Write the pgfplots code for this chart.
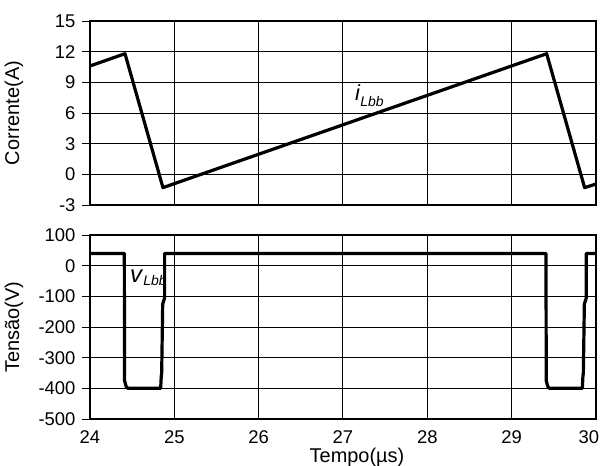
\documentclass[border=0pt]{standalone}
\usepackage{pgfplots}
\pgfplotsset{compat=1.18}
\usepackage{fontspec}
\setmainfont{Liberation Sans}

\pgfplotsset{
  osc/.style={
    scale only axis, width=506bp, height=184bp,
    xmin=24, xmax=30,
    xtick={24,25,...,30},
    grid=major,
    major grid style={black, line width=1bp},
    axis line style={black, line width=1.2bp},
    tick pos=left, tick align=outside,
    major tick length=8bp,
    xtick style={draw=none},
    ytick style={black, line width=1bp},
    tick label style={font=\fontsize{18.5}{20}\selectfont},
    label style={font=\fontsize{20}{22}\selectfont},
    /pgf/number format/assume math mode=true,
    yticklabel style={xshift=-3bp},
  },
  wave/.style={black, line width=3.2bp, line join=round},
}

\begin{document}
\begin{tikzpicture}
% corrente no indutor
\begin{axis}[osc, at={(90bp,-21bp)}, anchor=north west,
  ymin=-3, ymax=15, ytick={-3,0,3,6,9,12,15},
  xticklabels={},
  ylabel={Corrente(A)},
  ylabel style={at={(axis description cs:-0.125,0.5)}, anchor=south}]
\addplot[wave] coordinates {
  (24,10.6) (24.415,11.8) (24.865,-1.3) (29.415,11.8) (29.865,-1.3) (30,-0.95)};
\node[anchor=base west, inner sep=0pt] at (axis cs:27.14,7.2)
  {\fontsize{22}{22}\selectfont\textit{i}\raisebox{-0.25em}{\fontsize{14}{14}\selectfont\textit{Lbb}}};
\end{axis}

% tensao no indutor
\begin{axis}[osc, at={(90bp,-235bp)}, anchor=north west,
  ymin=-500, ymax=100, ytick={-500,-400,...,100},
  xticklabels={24,25,26,27,28,29,\hspace*{-14bp}30},
  xlabel={Tempo(µs)},
  xlabel style={xshift=14bp, yshift=2bp},
  ylabel={Tensão(V)},
  ylabel style={at={(axis description cs:-0.125,0.5)}, anchor=south}]
\addplot[wave] coordinates {
  (24,40) (24.407,40) (24.41,-375) (24.43,-395) (24.45,-400)
  (24.838,-400) (24.845,-360) (24.85,-350) (24.862,-125) (24.885,-105) (24.885,40)
  (29.407,40) (29.41,-375) (29.43,-395) (29.45,-400)
  (29.838,-400) (29.845,-360) (29.85,-350) (29.862,-125) (29.885,-105) (29.885,40)
  (30,40)};
\node[anchor=base west, inner sep=0pt] at (axis cs:24.474,-56)
  {\fontsize{24}{24}\selectfont\textit{v}\raisebox{-0.1em}{\fontsize{14}{14}\selectfont\textit{Lbb}}};
\end{axis}

\pgfresetboundingbox
\path[use as bounding box] (0bp,0bp) rectangle (600bp,-466bp);
\end{tikzpicture}
\end{document}
